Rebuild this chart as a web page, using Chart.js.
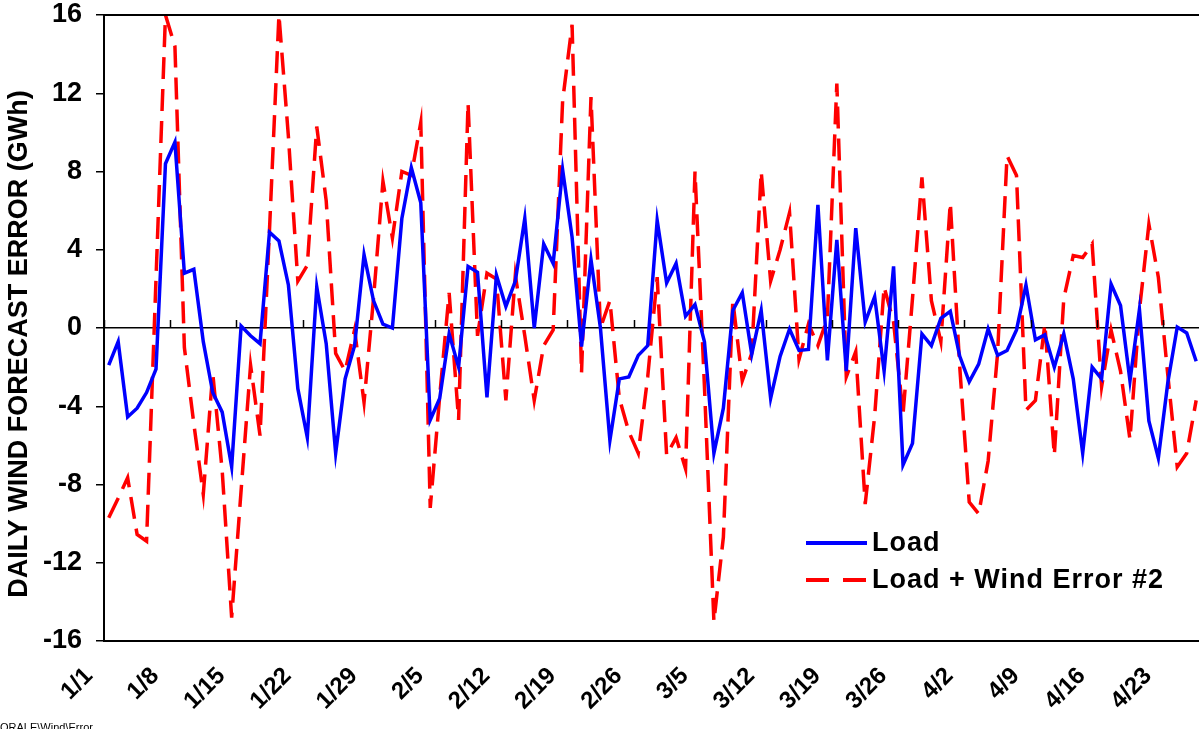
<!DOCTYPE html>
<html>

<head>
    <title>Daily wind forecast error</title>
    <meta charset="utf-8">
    <style>
        body { margin: 0; background: #fff; }
        #wrap { position: relative; width: 1199px; height: 729px; overflow: hidden; }
        #foot { position: absolute; left: 0; top: 721px; font: 11px "Liberation Sans", Arial, sans-serif; color: #000; }
    </style>
</head>

<body>
    <div id="wrap">
        <canvas id="myChart" width="1199" height="729"></canvas>
        <div id="foot">ORALE\Wind\Error</div>
    </div>

    <script src="https://cdn.jsdelivr.net/npm/chart.js"></script>
    <script>
        // one value per day, starting 1/1
        const loadErr = [
            -1.9, -0.7, -4.55, -4.1, -3.3, -2.1, 8.4, 9.5, 2.8, 3.0,
            -0.7, -3.3, -4.3, -7.1, 0.1, -0.4, -0.8, 4.9, 4.45, 2.2,
            -3.1, -5.6, 2.1, -0.8, -6.4, -2.6, -0.9, 3.75, 1.4, 0.2,
            0.0, 5.6, 8.2, 6.4, -4.7, -3.6, -0.3, -2.0, 3.15, 2.85,
            -3.55, 2.7, 1.1, 2.4, 5.6, 0.0, 4.3, 3.3, 8.1, 4.65,
            -0.95, 3.5, 0.0, -5.75, -2.6, -2.5, -1.4, -0.9, 5.5, 2.3,
            3.3, 0.6, 1.2, -0.7, -6.4, -4.1, 0.9, 1.8, -1.35, 0.9,
            -3.6, -1.45, -0.05, -1.15, -1.1, 6.3, -1.65, 4.5, -2.2, 5.1,
            0.3, 1.6, -2.2, 3.15, -7.0, -5.9, -0.3, -0.9, 0.5, 0.85,
            -1.45, -2.75, -1.85, -0.05, -1.4, -1.15, -0.1, 2.2, -0.6, -0.35,
            -2.0, -0.3, -2.6, -6.4, -2.0, -2.6, 2.25, 1.15, -2.7, 0.95,
            -4.75, -6.65, -2.8, 0.05, -0.25, -1.7
        ];

        const windErr = [
            -9.7, -8.7, -7.65, -10.55, -10.9, 2.5, 16.0, 14.4, -1.0, -4.9,
            -8.5, -2.3, -7.3, -14.8, -8.3, -1.9, -5.5, 5.0, 16.0, 9.8,
            2.4, 3.2, 10.3, 6.5, -1.3, -2.2, -0.1, -3.8, 1.5, 7.5,
            4.6, 8.0, 7.8, 10.5, -9.2, -3.5, 1.8, -4.7, 11.5, -0.4,
            2.8, 2.5, -3.7, 2.7, -0.4, -3.7, -0.9, -0.1, 11.6, 15.5,
            -2.3, 11.8, 0.0, 1.4, -3.6, -5.3, -6.4, -2.5, 2.6, -6.5,
            -5.6, -7.2, 8.0, -3.0, -15.0, -10.7, 1.4, -2.7, -1.3, 8.0,
            2.4, 4.0, 5.9, -1.6, 0.2, -0.9, 0.5, 12.5, -2.5, -1.2,
            -9.0, -4.5, 2.1, 0.3, -4.4, 1.5, 7.7, 1.4, -0.7, 6.4,
            -2.0, -8.9, -9.5, -6.8, -1.3, 8.8, 7.8, -4.2, -3.7, 0.2,
            -6.5, 1.5, 3.7, 3.6, 4.3, -3.0, -0.1, -2.2, -5.7, 0.9,
            5.3, 2.6, -2.4, -7.1, -6.4, -3.7
        ];

        const weekLabels = ["1/1", "1/8", "1/15", "1/22", "1/29", "2/5", "2/12", "2/19", "2/26",
            "3/5", "3/12", "3/19", "3/26", "4/2", "4/9", "4/16", "4/23"];

        const seriesNames = ["Load", "Load + Wind Error #2"];
        const yTitle = "DAILY WIND FORECAST ERROR (GWh)";

        const boldFont = "'Liberation Sans', Arial, sans-serif";

        // frame, zero-line tick marks, axis title and the legend inside the plot
        const extras = {
            id: "extras",
            afterDraw(chart) {
                const ctx = chart.ctx;
                const area = chart.chartArea;
                const xs = chart.scales.x;
                const ys = chart.scales.y;
                const y0 = ys.getPixelForValue(0);

                ctx.save();
                ctx.strokeStyle = "#000";
                ctx.lineWidth = 2;
                ctx.strokeRect(area.left, area.top, area.right - area.left + 2, area.bottom - area.top);

                ctx.lineWidth = 1.5;
                xs.ticks.forEach(t => {
                    const px = Math.round(xs.getPixelForValue(t.value)) + 0.5;
                    ctx.beginPath();
                    ctx.moveTo(px, y0);
                    ctx.lineTo(px, y0 - 8);
                    ctx.stroke();
                });

                // y axis title
                ctx.save();
                ctx.translate(20, (area.top + area.bottom) / 2 + 16);
                ctx.rotate(-Math.PI / 2);
                ctx.fillStyle = "#000";
                ctx.font = "bold 27px " + boldFont;
                ctx.textAlign = "center";
                ctx.textBaseline = "middle";
                ctx.fillText(yTitle, 0, 0);
                ctx.restore();

                // legend
                const lx = 806, ly = [543, 580];
                chart.data.datasets.forEach((ds, i) => {
                    ctx.strokeStyle = ds.borderColor;
                    ctx.lineWidth = 4;
                    ctx.setLineDash(i == 1 ? [23, 14] : []);
                    ctx.beginPath();
                    ctx.moveTo(lx, ly[i]);
                    ctx.lineTo(lx + 61, ly[i]);
                    ctx.stroke();
                    ctx.setLineDash([]);
                    ctx.fillStyle = "#000";
                    ctx.font = "bold 27px " + boldFont;
                    ctx.letterSpacing = "1px";
                    ctx.textBaseline = "middle";
                    ctx.fillText(ds.label, lx + 66, ly[i] + 1);
                });
                ctx.restore();
            }
        };

        const ctx = document.getElementById('myChart');

        let chart = new Chart(ctx, {
            type: "line",
            data: {
                datasets: [{
                    label: seriesNames[0],
                    data: loadErr.map((v, i) => ({ x: i, y: v })),
                    borderColor: "#0000FF",
                    borderWidth: 3.5,
                    pointRadius: 0,
                    tension: 0
                }, {
                    label: seriesNames[1],
                    data: windErr.map((v, i) => ({ x: i, y: v })),
                    borderColor: "#FF0000",
                    borderWidth: 3.5,
                    borderDash: [22, 10],
                    pointRadius: 0,
                    tension: 0
                }]
            },
            options: {
                responsive: false,
                animation: false,
                layout: { padding: { top: 15, right: 0, bottom: 0, left: 0 } },
                plugins: {
                    legend: { display: false },
                    tooltip: { enabled: false }
                },
                scales: {
                    x: {
                        type: "linear",
                        min: -0.5,
                        max: 115.3,
                        afterBuildTicks: s => {
                            s.ticks = weekLabels.map((l, k) => ({ value: k * 7 - 0.5 }));
                        },
                        afterFit: s => {
                            s.height = 88;
                            s.paddingLeft = 0;
                            s.paddingRight = 0;
                        },
                        grid: { display: false },
                        border: { display: false },
                        ticks: {
                            autoSkip: false,
                            maxRotation: 45,
                            minRotation: 45,
                            padding: 13,
                            labelOffset: -15,
                            color: "#000",
                            font: { family: boldFont, size: 24, weight: "bold" },
                            callback: (v, k) => weekLabels[k]
                        }
                    },
                    y: {
                        min: -16,
                        max: 16,
                        afterFit: s => {
                            s.width = 104;
                            s.paddingTop = 0;
                            s.paddingBottom = 0;
                        },
                        grid: {
                            color: c => c.tick && c.tick.value === 0 ? "#000" : "transparent",
                            tickColor: "#000",
                            tickLength: 8,
                            lineWidth: 1.5
                        },
                        border: { display: false },
                        ticks: {
                            stepSize: 4,
                            padding: 14,
                            color: "#000",
                            font: { family: boldFont, size: 27, weight: "bold" }
                        }
                    }
                }
            },
            plugins: [extras]
        });
    </script>
</body>

</html>
